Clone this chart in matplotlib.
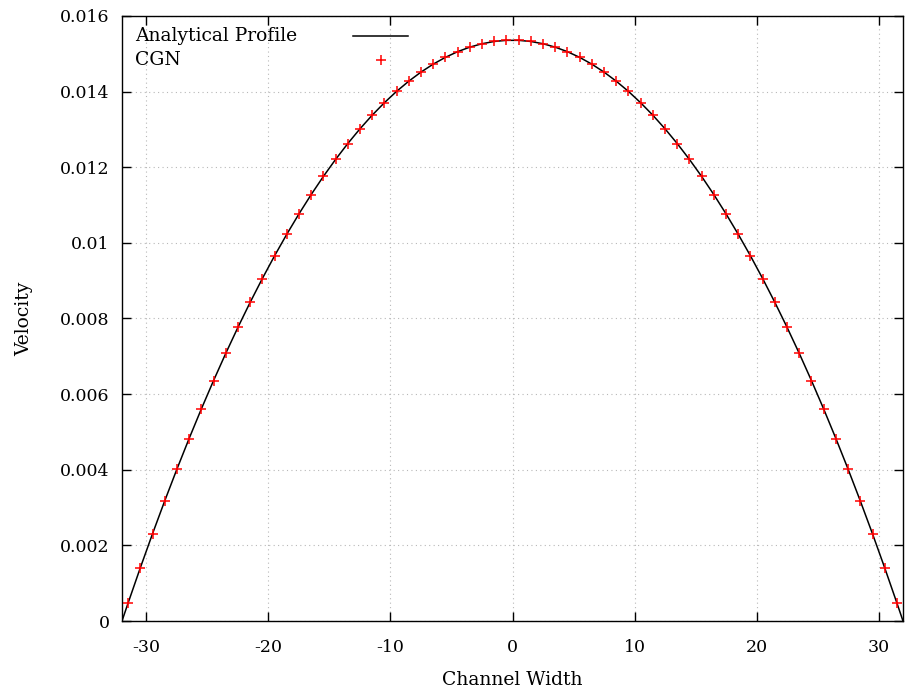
import matplotlib
matplotlib.use("Agg")
import matplotlib.pyplot as plt
from matplotlib.lines import Line2D

# Sample positions across the channel (lattice node centres)
channel_x = [-31.5, -30.5, -29.5, -28.5, -27.5, -26.5, -25.5, -24.5,
             -23.5, -22.5, -21.5, -20.5, -19.5, -18.5, -17.5, -16.5,
             -15.5, -14.5, -13.5, -12.5, -11.5, -10.5, -9.5, -8.5,
             -7.5, -6.5, -5.5, -4.5, -3.5, -2.5, -1.5, -0.5,
             0.5, 1.5, 2.5, 3.5, 4.5, 5.5, 6.5, 7.5,
             8.5, 9.5, 10.5, 11.5, 12.5, 13.5, 14.5, 15.5,
             16.5, 17.5, 18.5, 19.5, 20.5, 21.5, 22.5, 23.5,
             24.5, 25.5, 26.5, 27.5, 28.5, 29.5, 30.5, 31.5]

# Simulated (CGN) velocity at each node
cgn_velocity = [0.000476, 0.001406, 0.002306, 0.003176, 0.004016, 0.004826, 0.005606, 0.006356,
                0.007076, 0.007766, 0.008426, 0.009056, 0.009656, 0.010226, 0.010766, 0.011276,
                0.011756, 0.012206, 0.012626, 0.013016, 0.013376, 0.013706, 0.014006, 0.014276,
                0.014516, 0.014726, 0.014906, 0.015056, 0.015176, 0.015266, 0.015326, 0.015356,
                0.015356, 0.015326, 0.015266, 0.015176, 0.015056, 0.014906, 0.014726, 0.014516,
                0.014276, 0.014006, 0.013706, 0.013376, 0.013016, 0.012626, 0.012206, 0.011756,
                0.011276, 0.010766, 0.010226, 0.009656, 0.009056, 0.008426, 0.007766, 0.007076,
                0.006356, 0.005606, 0.004826, 0.004016, 0.003176, 0.002306, 0.001406, 0.000476]

# Analytical profile: no-slip walls at +-32 plus the interior nodes
analytic_x = [-32.0] + channel_x + [32.0]
analytic_u = [0.0] + cgn_velocity + [0.0]

x_ticks = [-30, -20, -10, 0, 10, 20, 30]
y_ticks = [0, 0.002, 0.004, 0.006, 0.008, 0.01, 0.012, 0.014, 0.016]
y_tick_labels = ["0", "0.002", "0.004", "0.006", "0.008", "0.01", "0.012", "0.014", "0.016"]

plt.rcParams["font.family"] = ["DejaVu Serif"]
tick_fs = 12.5
text_fs = 13.5

fig = plt.figure(figsize=(9.05, 6.98), dpi=100)
ax = fig.add_axes([0.1348, 0.1103, 0.8630, 0.8668])

line_style = dict(color="black", lw=1.1)
mark_style = dict(linestyle="none", marker="+", markersize=6.5,
                  markeredgewidth=1.1, color="red")

ax.plot(analytic_x, analytic_u, zorder=2, **line_style)
ax.plot(channel_x, cgn_velocity, zorder=3, **mark_style)

ax.set_xlim(-32, 32)
ax.set_ylim(0, 0.016)
ax.set_xticks(x_ticks)
ax.set_xticklabels([str(t) for t in x_ticks])
ax.set_yticks(y_ticks)
ax.set_yticklabels(y_tick_labels)

ax.grid(True, color="#b8b8b8", linestyle=(0, (1, 3)), linewidth=0.8)
ax.tick_params(direction="in", length=6.5, width=1.0, top=True, right=True,
               labelsize=tick_fs)
ax.tick_params(axis="x", pad=13)
ax.tick_params(axis="y", pad=9)
for s in ax.spines.values():
    s.set_linewidth(1.0)

ax.set_xlabel("Channel Width", fontsize=text_fs, labelpad=11)
ax.set_ylabel("Velocity", fontsize=text_fs, labelpad=19.5)

# Key: left-aligned titles with the sample drawn to their right
key_rows = [("Analytical Profile", line_style), ("CGN", mark_style)]
text_x, sample_x0, sample_x1 = 0.0166, 0.296, 0.366
row_y0, row_dy = 0.967, 0.0397
for i, (title, style) in enumerate(key_rows):
    yy = row_y0 - i * row_dy
    ax.text(text_x, yy, title, transform=ax.transAxes, fontsize=text_fs,
            ha="left", va="center")
    if style.get("marker"):
        ax.add_line(Line2D([(sample_x0 + sample_x1) / 2], [yy],
                           transform=ax.transAxes, **style))
    else:
        ax.add_line(Line2D([sample_x0, sample_x1], [yy, yy],
                           transform=ax.transAxes, **style))

fig.savefig("out.png", dpi=100)
